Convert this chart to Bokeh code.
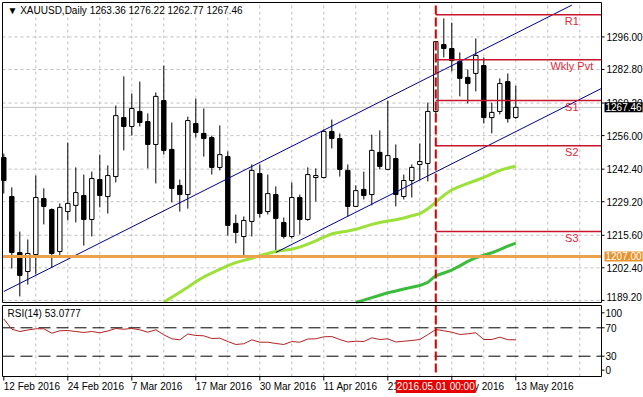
from bokeh.plotting import figure
from bokeh.layouts import column
from bokeh.models import ColumnDataSource, Range1d, Label
from bokeh.core.properties import value
from bokeh.embed import file_html
from bokeh.resources import INLINE

FONT = "Liberation Sans"

# ---------------- data (daily bars, XAUUSD) ----------------
opens = [1247.1, 1231.3, 1208.6, 1200.9, 1207.8, 1230.5, 1226.0, 1209.0, 1225.2, 1227.7,
         1231.7, 1222.0, 1238.2, 1231.3, 1239.4, 1263.3, 1259.7, 1265.8, 1261.7, 1252.4,
         1270.2, 1250.4, 1235.8, 1232.1, 1260.9, 1256.9, 1255.2, 1243.1, 1247.5, 1220.4,
         1215.1, 1221.2, 1240.6, 1225.2, 1232.1, 1220.8, 1215.1, 1230.9, 1222.0, 1239.0,
         1239.0, 1257.7, 1254.8, 1241.9, 1227.3, 1234.2, 1232.1, 1249.2, 1242.3, 1246.7,
         1231.3, 1237.8, 1244.3, 1244.7, 1265.8, 1292.9, 1291.3, 1286.0, 1279.6, 1281.2,
         1284.4, 1263.3, 1265.8, 1277.9, 1263.36]
highs = [1248.7, 1235.0, 1217.1, 1213.9, 1239.8, 1234.6, 1226.5, 1228.5, 1253.2, 1243.1,
         1240.2, 1241.4, 1248.3, 1243.9, 1268.2, 1280.0, 1273.1, 1277.9, 1265.0, 1273.5,
         1284.4, 1261.3, 1238.2, 1263.7, 1271.0, 1267.0, 1256.0, 1260.1, 1249.6, 1224.0,
         1223.2, 1244.3, 1244.3, 1240.2, 1235.4, 1222.8, 1237.0, 1232.1, 1243.1, 1242.7,
         1258.5, 1262.5, 1256.9, 1244.3, 1235.8, 1241.4, 1256.4, 1258.1, 1270.2, 1252.4,
         1240.2, 1244.3, 1252.8, 1269.4, 1294.3, 1303.5, 1301.8, 1289.7, 1282.8, 1295.4,
         1287.7, 1269.4, 1279.2, 1281.2, 1276.22]
lows = [1232.5, 1202.1, 1190.8, 1195.6, 1199.7, 1220.0, 1202.5, 1207.4, 1221.6, 1220.8,
        1211.4, 1215.1, 1226.9, 1224.4, 1237.0, 1250.0, 1256.0, 1259.7, 1242.7, 1236.6,
        1248.3, 1228.9, 1225.2, 1226.4, 1255.2, 1247.5, 1240.2, 1241.9, 1215.5, 1212.3,
        1207.4, 1215.1, 1222.8, 1224.0, 1208.6, 1214.3, 1214.3, 1215.9, 1221.5, 1229.3,
        1238.6, 1250.8, 1239.4, 1223.2, 1227.0, 1230.1, 1227.7, 1242.3, 1242.0, 1227.3,
        1230.1, 1230.9, 1237.8, 1237.4, 1263.3, 1287.7, 1282.0, 1271.9, 1269.0, 1273.9,
        1260.9, 1256.9, 1264.6, 1261.3, 1262.77]
closes = [1237.8, 1208.6, 1199.3, 1208.2, 1230.9, 1227.3, 1208.2, 1226.9, 1228.5, 1232.9,
          1222.0, 1238.6, 1231.7, 1239.8, 1264.1, 1259.7, 1267.0, 1261.3, 1252.4, 1271.9,
          1250.0, 1234.6, 1232.1, 1262.1, 1257.3, 1254.8, 1243.1, 1248.3, 1219.6, 1216.7,
          1221.6, 1241.9, 1224.4, 1232.5, 1222.4, 1215.1, 1230.9, 1222.0, 1240.2, 1239.8,
          1257.7, 1254.8, 1242.3, 1227.3, 1233.7, 1231.7, 1250.0, 1243.5, 1247.9, 1232.1,
          1237.8, 1243.1, 1245.5, 1265.8, 1294.1, 1291.3, 1286.4, 1279.2, 1277.1, 1288.5,
          1263.3, 1265.4, 1277.1, 1262.9, 1267.46]

rsi = [82.4, 68.0, 64.8, 66.9, 68.6, 68.6, 62.4, 65.8, 66.2, 64.8,
       63.4, 64.8, 63.0, 65.5, 69.0, 68.0, 69.0, 67.2, 63.8, 67.2,
       60.1, 54.5, 53.1, 61.3, 59.2, 58.7, 54.9, 55.4, 50.7, 46.5,
       47.5, 53.1, 49.7, 49.7, 47.9, 46.5, 50.7, 49.7, 54.2, 54.5,
       57.3, 57.7, 53.5, 50.0, 51.1, 50.7, 55.9, 53.5, 54.5, 50.0,
       51.1, 52.1, 53.5, 60.4, 67.6, 65.8, 63.8, 60.6, 61.5, 63.0,
       53.5, 53.5, 56.8, 53.2, 53.08]

ma_fast_start = 20
ma_fast = [1188.5, 1190.5, 1192.5, 1194.5, 1196.8, 1198.7, 1200.3, 1201.8, 1203.3, 1204.5,
           1205.4, 1206.3, 1207.3, 1208.2, 1209.0, 1209.5, 1209.9, 1210.8, 1212.0, 1213.3,
           1214.8, 1216.2, 1216.8, 1217.3, 1218.0, 1219.0, 1220.0, 1220.8, 1221.4, 1221.9,
           1222.6, 1223.5, 1224.3, 1226.3, 1229.0, 1231.8, 1234.0, 1235.4, 1236.6, 1237.8,
           1239.1, 1240.5, 1241.9, 1242.9, 1243.6]
ma_slow_start = 44
ma_slow = [1188.4, 1189.3, 1190.3, 1191.3, 1192.3, 1193.0, 1193.8, 1194.5, 1195.2, 1196.5,
           1199.2, 1200.3, 1201.5, 1203.2, 1205.0, 1206.5, 1207.5, 1208.5, 1209.8, 1211.2,
           1212.4]

# trend channel anchors (bar index, price)
chan_upper_x = [0, 71]
chan_upper_y = [1192.8, 1308.9]
chan_lower_x = [34, 74.7]
chan_lower_y = [1208.6, 1275.1]

# weekly pivots
pivot_start = 54
pivot_names = ["R1", "Wkly Pvt", "S1", "S2", "S3"]
pivot_levels = [1305.0, 1286.7, 1270.2, 1251.9, 1217.1]

support_level = 1207.00
last_price = 1267.46
marker_bar = 54
marker_text = "2016.05.01 00:00"

price_ticks = [1189.2, 1202.4, 1215.6, 1229.2, 1242.4, 1256.0, 1269.2, 1282.8, 1296.0]
date_ticks = [0, 8, 16, 24, 32, 40, 48, 56, 64]
date_labels = ["12 Feb 2016", "24 Feb 2016", "7 Mar 2016", "17 Mar 2016", "30 Mar 2016",
               "11 Apr 2016", "21 Apr 2016", "3 May 2016", "13 May 2016"]
rsi_levels = [70, 30]
rsi_scale_pos = [91.1, 70, 30, 10.3]
rsi_scale_text = ["100", "70", "30", "0"]
vgrid_ticks = list(range(4, 76, 4))

header = "\u25bc XAUUSD,Daily  1263.36 1276.22 1262.77 1267.46"
rsi_title = "RSI(14) 53.0777"

# ---------------- screen calibration (layout only) ----------------
W, H_MAIN, H_RSI = 643, 304, 93
BAR0_PX, BAR_PX = 3.3, 8.0
PRICE_Y0, PRICE_PER_PX = 1310.77, 0.4054
RSI70_PY, RSI_PER_PX = 327.3, 40 / 28.4


def bar_at(px):
    return (px - BAR0_PX) / BAR_PX


def price_at(py):
    return PRICE_Y0 - PRICE_PER_PX * py


def rsi_at(page_py):
    return 70 - (page_py - RSI70_PY) * RSI_PER_PX


FX0, FX1 = bar_at(2), bar_at(601)          # chart window left / right edge
P_TOP, P_BOT = price_at(2), price_at(302)  # price window top / bottom
R_TOP, R_BOT = rsi_at(305), rsi_at(376)    # rsi window top / bottom
TICK = 3 / BAR_PX

GRID = dict(line_color="#C0C0C0", line_dash="3 3", line_width=1)
TXT = dict(text_font=value(FONT), text_font_size="10px", text_color="black")

# ---------------- main window ----------------
X_RANGE = Range1d(bar_at(0), bar_at(W))
p = figure(width=W, height=H_MAIN, x_range=X_RANGE,
           y_range=Range1d(price_at(H_MAIN), price_at(0)),
           x_axis_location=None, y_axis_location=None,
           output_backend="svg", toolbar_location=None,
           min_border=0, min_border_left=0, min_border_right=0,
           min_border_top=0, min_border_bottom=0)
p.outline_line_color = None
p.grid.visible = False
p.background_fill_color = "white"
p.border_fill_color = "white"

nv, nh = len(vgrid_ticks), len(price_ticks)
p.segment(x0=vgrid_ticks, x1=vgrid_ticks, y0=[P_BOT] * nv, y1=[P_TOP] * nv, **GRID)
p.segment(x0=[FX0] * nh, x1=[FX1] * nh, y0=price_ticks, y1=price_ticks, **GRID)

# ask line
p.segment(x0=[FX0], x1=[FX1], y0=[last_price], y1=[last_price], line_color="#C0C0C0", line_width=1)

idx = list(range(len(opens)))
src = ColumnDataSource(dict(
    x=idx, h=highs, l=lows,
    top=[max(o, c) for o, c in zip(opens, closes)],
    bottom=[min(o, c) for o, c in zip(opens, closes)],
    fill=["white" if c >= o else "black" for o, c in zip(opens, closes)],
))
p.segment(x0="x", y0="l", x1="x", y1="h", source=src, line_color="black", line_width=1)
p.vbar(x="x", width=0.55, top="top", bottom="bottom", source=src,
       fill_color="fill", line_color="black", line_width=1)

p.line(list(range(ma_fast_start, ma_fast_start + len(ma_fast))), ma_fast,
       line_color="#9CE03A", line_width=3)
p.line(list(range(ma_slow_start, ma_slow_start + len(ma_slow))), ma_slow,
       line_color="#3DBB3D", line_width=3)

p.line(chan_upper_x, chan_upper_y, line_color="#00008B", line_width=1)
p.line(chan_lower_x, chan_lower_y, line_color="#00008B", line_width=1)

p.segment(x0=[FX0], x1=[FX1], y0=[support_level], y1=[support_level],
          line_color="#EBA24B", line_width=3)

n = len(pivot_levels)
p.segment(x0=[pivot_start] * n, x1=[FX1] * n, y0=pivot_levels, y1=pivot_levels,
          line_color="#C8142C", line_width=1.5)
p.text(x=[71] * n, y=pivot_levels, text=pivot_names, text_align="center",
       text_baseline="top", text_color="#E0283C", text_font=value(FONT),
       text_font_size="11px")

p.segment(x0=[marker_bar], x1=[marker_bar], y0=[P_BOT], y1=[P_TOP],
          line_color="#D80000", line_width=2, line_dash="9 3")

# window frame
p.quad(left=[FX0], right=[FX1], top=[P_TOP], bottom=[P_BOT], fill_color=None,
       line_color="black", line_width=1)

# price scale (lowest label nudged up so it stays inside the window)
p.segment(x0=[FX1] * nh, x1=[FX1 + TICK] * nh, y0=price_ticks, y1=price_ticks,
          line_color="black", line_width=1)
p.text(x=[FX1] * nh, y=price_ticks, text=["%.2f" % t for t in price_ticks],
       x_offset=5, y_offset=[-3] + [0] * (nh - 1),
       text_align="left", text_baseline="middle", **TXT)

p.add_layout(Label(x=FX1, y=support_level, x_offset=3, text="%.2f" % support_level,
                   text_font=FONT, text_font_size="10px", text_color="white",
                   text_baseline="middle", text_align="left",
                   background_fill_color="#E8922C", padding=1))
p.add_layout(Label(x=FX1, y=last_price, x_offset=3, text="%.2f" % last_price,
                   text_font=FONT, text_font_size="10px", text_color="white",
                   text_baseline="middle", text_align="left",
                   background_fill_color="black", padding=1))

p.add_layout(Label(x=bar_at(7), y=price_at(10), text=header, text_font=FONT,
                   text_font_size="10px", text_color="black",
                   text_baseline="middle", text_align="left"))

# ---------------- RSI window ----------------
q = figure(width=W, height=H_RSI, x_range=X_RANGE,
           y_range=Range1d(rsi_at(H_MAIN + H_RSI), rsi_at(H_MAIN)),
           x_axis_location=None, y_axis_location=None,
           output_backend="svg", toolbar_location=None,
           min_border=0, min_border_left=0, min_border_right=0,
           min_border_top=0, min_border_bottom=0)
q.outline_line_color = None
q.grid.visible = False
q.background_fill_color = "white"
q.border_fill_color = "white"

q.segment(x0=vgrid_ticks, x1=vgrid_ticks, y0=[R_BOT] * nv, y1=[R_TOP] * nv, **GRID)
nl = len(rsi_levels)
q.segment(x0=[FX0] * nl, x1=[FX1] * nl, y0=rsi_levels, y1=rsi_levels,
          line_color="black", line_width=1, line_dash="12 6")

q.line(idx, rsi, line_color="#B22222", line_width=1)

q.segment(x0=[marker_bar], x1=[marker_bar], y0=[rsi_at(372)], y1=[R_TOP],
          line_color="#D80000", line_width=2, line_dash="9 3")

q.quad(left=[FX0], right=[FX1], top=[R_TOP], bottom=[R_BOT], fill_color=None,
       line_color="black", line_width=1)

ns = len(rsi_scale_pos)
q.segment(x0=[FX1] * ns, x1=[FX1 + TICK] * ns, y0=rsi_scale_pos, y1=rsi_scale_pos,
          line_color="black", line_width=1)
q.text(x=[FX1] * ns, y=rsi_scale_pos, text=rsi_scale_text, x_offset=4,
       text_align="left", text_baseline="middle", **TXT)

# time scale
nd = len(date_ticks)
q.segment(x0=date_ticks, x1=date_ticks, y0=[R_BOT] * nd, y1=[rsi_at(380)] * nd,
          line_color="black", line_width=1)
q.text(x=date_ticks, y=[rsi_at(386)] * nd, text=date_labels, text_align="left",
       text_baseline="middle", **TXT)

q.add_layout(Label(x=bar_at(7), y=rsi_at(313), text=rsi_title, text_font=FONT,
                   text_font_size="10px", text_color="black",
                   text_baseline="middle", text_align="left"))

q.add_layout(Label(x=marker_bar, y=rsi_at(386), text=marker_text, text_font=FONT,
                   text_font_size="10px", text_color="white", text_baseline="middle",
                   text_align="center", background_fill_color="#E60000", padding=1))

layout = column(p, q, spacing=0)

open("out.html", "w").write(file_html(layout, INLINE))
